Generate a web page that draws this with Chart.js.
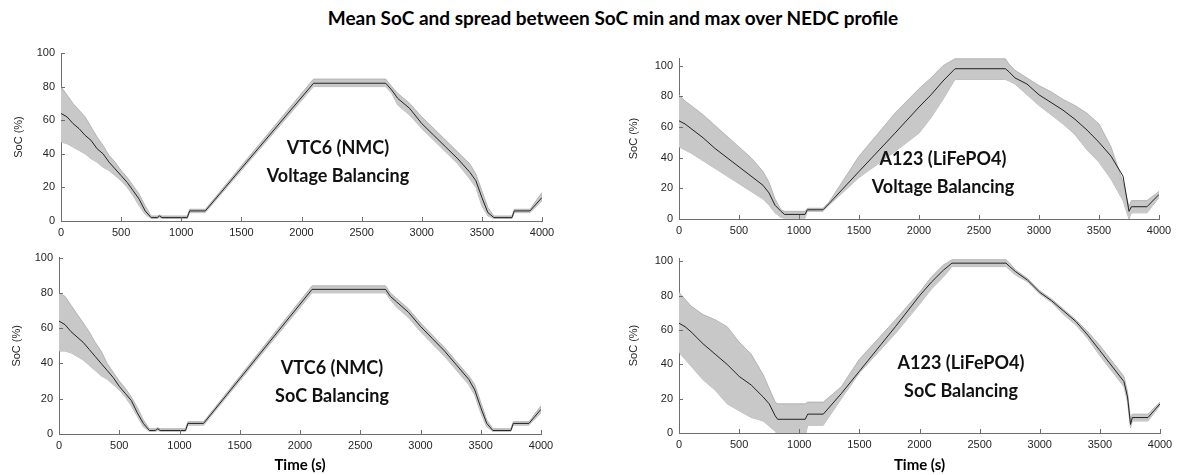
<!DOCTYPE html>
<html><head><meta charset="utf-8">
<script src="https://cdn.jsdelivr.net/npm/chart.js@4.4.1/dist/chart.umd.min.js"></script>
<style>
html,body{margin:0;padding:0;background:#fff}
body{width:1180px;height:475px;position:relative;overflow:hidden;font-family:Lato,"Liberation Sans",sans-serif}
.box{position:absolute}
.title{position:absolute;top:6px;left:0;width:1226px;text-align:center;font-weight:700;font-size:19px;color:#000;white-space:nowrap}
.note{position:absolute;text-align:center;font-weight:700;font-size:18px;line-height:28px;color:#111;transform:translateX(-50%);white-space:nowrap}
</style></head><body>
<div class="title">Mean SoC and spread between SoC min and max over NEDC profile</div>
<div class="box" id="b1"><canvas id="c1"></canvas></div>
<div class="box" id="b2"><canvas id="c2"></canvas></div>
<div class="box" id="b3"><canvas id="c3"></canvas></div>
<div class="box" id="b4"><canvas id="c4"></canvas></div>
<div class="note" style="left:338px;top:133px">VTC6 (NMC)<br>Voltage Balancing</div>
<div class="note" style="left:943px;top:144px">A123 (LiFePO4)<br>Voltage Balancing</div>
<div class="note" style="left:332px;top:353px">VTC6 (NMC)<br>SoC Balancing</div>
<div class="note" style="left:961px;top:348px">A123 (LiFePO4)<br>SoC Balancing</div>
<script>
// ---------- DATA ----------
const xTicks = [0,500,1000,1500,2000,2500,3000,3500,4000];
const yTicks = [0,20,40,60,80,100];

// VTC6 (NMC) – Voltage Balancing
const vtcVoltTime = [0,50,100,150,200,250,300,350,400,450,500,550,600,650,700,750,800,820,840,1050,1070,1200,2100,2700,2750,2800,2900,3000,3100,3200,3300,3400,3450,3500,3550,3600,3750,3770,3900,4000];
const vtcVoltMean = [64,62,58,55,51,48,43,40,35,31,27,23,18,13,6,2,2,3,2,2,6,6,82,82,78,73,67,58,51,44,37,29,24,14,5,2,2,6,6,14];
const vtcVoltMax  = [80,75,70,66,62,56,50,45,39,35,30,26,21,16,9,3,3,3.5,3,3,7,7,84.5,84.5,80,76,70,62,55,48,41,34,28,18,8,3,3,7,7,17];
const vtcVoltMin  = [47,46,44,42,40,37,35,32,30,27,24,20,15,9,4,1.5,1.5,2,1.5,1.5,5,5,80,80,76,69,63,55,48,41,34,25,20,9,3,1.5,1.5,5,5,12];

// A123 (LiFePO4) – Voltage Balancing
const a123VoltTime = [0,50,100,200,300,400,500,600,700,750,800,850,880,1050,1070,1200,1250,1500,1800,2000,2100,2200,2300,2720,2750,2800,2900,3000,3100,3200,3300,3400,3500,3600,3700,3750,3770,3900,4000];
const a123VoltMean = [64,62,59,53,46,40,34,28,22,17,9,5,3,3,6,6,10,31,56,73,81,90,98,98,96,92,88,81,76,71,65,58,50,41,28,5,8,8,16];
const a123VoltMax  = [81,77,74,68,61,54,47,40,31,24,13,6,5,5,7,7,11,41,69,85,92,100,104.5,104.5,101,97,92,87,83,78,74,69,62,47,24,8,12,12,18];
const a123VoltMin  = [47,45,43,38,33,28,23,18,13,9,4,1,0.5,0.5,5,5,9,27,44,56,66,78,91,91,90,88,81,74,68,62,55,45,37,26,12,0,4,4,14];

// VTC6 (NMC) – SoC Balancing
const vtcSocTime = [0,50,100,150,200,250,300,350,400,450,500,550,600,650,700,750,800,820,840,1050,1070,1200,2100,2710,2750,2800,2900,3000,3100,3200,3300,3400,3450,3500,3550,3600,3750,3770,3900,4000];
const vtcSocMean = [64,62,58,55,52,48,44,40,36,32,27,23,19,12,6,2,2,3,2,2,6,6,82,82,78,75,69,61,54,47,39,31,25,15,6,2,2,6,6,14];
const vtcSocMax  = [80,78,73,68,63,58,52,47,40,35,30,26,21,15,8,3,3,3.5,3,3,7,7,84,84,80,77,71,63,56,49,41,33,28,18,8,3,3,7,7,16];
const vtcSocMin  = [47,47,46,44,42,39,36,33,31,28,25,21,16,10,4,1.5,1.5,2,1.5,1.5,5,5,80,80,76,72,66,58,51,44,36,28,22,12,4,1.5,1.5,5,5,12];

// A123 (LiFePO4) – SoC Balancing
const a123SocTime = [0,50,100,200,300,400,500,600,700,750,800,820,1050,1070,1200,1350,1500,1800,2000,2100,2200,2270,2720,2750,2800,2900,3000,3100,3200,3300,3400,3500,3600,3700,3730,3755,3770,3900,4000];
const a123SocMean = [64,62,59,52,46,40,33,28,21,17,10,8,8,11,11,23,36,62,80,88,95,99,99,97,94,89,82,77,71,65,57,48,39,30,21,5,9,9,17];
const a123SocMax  = [82,78,74,69,66,62,53,46,34,26,18,17,17,18,18,27,43,66,82,91,98,101,101,99,95,90,83,78,72,66,59,51,42,33,24,8,11,11,18];
const a123SocMin  = [47,43,39,31,25,17,13,9,7,4,1,-1,-2,4.5,4.5,20,35,58,75,84,91,97,97,95,92,88,81,76,69,63,55,45,36,27,18,3,7,7,16];

// ---------- DRAWING ----------
const TICK_FONT = {family:'"Liberation Sans", Arial, sans-serif', size:11};
const TICK_COLOR = '#262626';
const AXIS_COLOR = '#6e6e6e';

const inwardTicks = {
  id:'inwardTicks',
  afterDatasetsDraw(chart){
    const {ctx, chartArea:a, scales:{x,y}} = chart;
    ctx.save();
    ctx.strokeStyle = AXIS_COLOR; ctx.lineWidth = 1;
    ctx.beginPath();
    x.ticks.forEach(t=>{const px=Math.round(x.getPixelForValue(t.value))+0.5; ctx.moveTo(px,a.bottom); ctx.lineTo(px,a.bottom-4);});
    y.ticks.forEach(t=>{const py=Math.round(y.getPixelForValue(t.value))+0.5; ctx.moveTo(a.left,py); ctx.lineTo(a.left+4,py);});
    ctx.stroke();
    ctx.restore();
  }
};

function pts(t, v){ return t.map((tt,i)=>({x:tt, y:v[i]})); }

function makeChart(id, boxId, box, area, yMax, showXTitle, yTitlePad, time, mean, mn, mx){
  const b = document.getElementById(boxId);
  b.style.left = box.x+'px'; b.style.top = box.y+'px';
  b.style.width = box.w+'px'; b.style.height = box.h+'px';
  const cv = document.getElementById(id);
  cv.width = box.w; cv.height = box.h;
  const yW = area.left - box.x;
  const xH = box.y + box.h - area.bottom;
  const pad = {left:0, top: area.top - box.y, right: box.x + box.w - area.right, bottom:0};
  new Chart(cv, {
    type:'line',
    data:{datasets:[
      {data:pts(time,mean), borderColor:'#222222', borderWidth:1, fill:false, pointRadius:0, tension:0, order:0},
      {data:pts(time,mx), borderColor:'#a9a9a9', borderWidth:0.8, backgroundColor:'#c8c8c8', fill:'+1', pointRadius:0, tension:0, order:1},
      {data:pts(time,mn), borderColor:'#a9a9a9', borderWidth:0.8, fill:false, pointRadius:0, tension:0, order:2}
    ]},
    options:{
      responsive:false, animation:false, devicePixelRatio:1,
      layout:{padding:pad},
      plugins:{legend:{display:false}, tooltip:{enabled:false}},
      scales:{
        x:{type:'linear', min:0, max:4000,
           afterFit(s){ s.height = xH; },
           afterBuildTicks(s){ s.ticks = xTicks.map(v=>({value:v})); },
           grid:{display:false, drawTicks:false},
           border:{display:true, color:AXIS_COLOR, width:1},
           ticks:{font:TICK_FONT, color:TICK_COLOR, padding:5, maxRotation:0, autoSkip:false, callback:v=>String(v)},
           title:{display:showXTitle, text:'Time (s)', color:'#000',
                  font:{family:'Lato, sans-serif', size:15, weight:'bold'}, padding:{top:0,bottom:1}}
        },
        y:{type:'linear', min:0, max:yMax,
           afterFit(s){ s.width = yW; },
           afterBuildTicks(s){ s.ticks = yTicks.map(v=>({value:v})); },
           grid:{display:false, drawTicks:false},
           border:{display:true, color:AXIS_COLOR, width:1},
           ticks:{font:TICK_FONT, color:TICK_COLOR, padding:6, callback:v=>String(v)},
           title:{display:true, text:'SoC (%)', color:TICK_COLOR, font:TICK_FONT, padding:{top:yTitlePad,bottom:0}}
        }
      }
    },
    plugins:[inwardTicks]
  });
}

makeChart('c1','b1',{x:0,y:30,w:570,h:215},{left:61,right:542,top:53,bottom:221},100,false,12,
  vtcVoltTime,vtcVoltMean,vtcVoltMin,vtcVoltMax);
makeChart('c2','b2',{x:612,y:30,w:568,h:215},{left:679,right:1159,top:58,bottom:219},105,false,15,
  a123VoltTime,a123VoltMean,a123VoltMin,a123VoltMax);
makeChart('c3','b3',{x:0,y:245,w:570,h:230},{left:59,right:541,top:257,bottom:434},100,true,10,
  vtcSocTime,vtcSocMean,vtcSocMin,vtcSocMax);
makeChart('c4','b4',{x:612,y:245,w:568,h:230},{left:679,right:1160,top:258,bottom:433},102,true,15,
  a123SocTime,a123SocMean,a123SocMin,a123SocMax);
</script>
</body></html>
